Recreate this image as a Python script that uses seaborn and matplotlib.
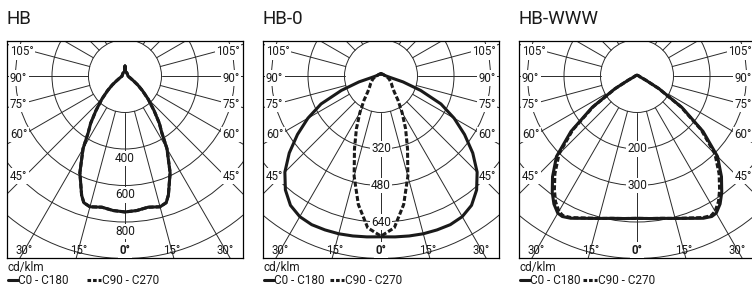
import numpy as np
import matplotlib
matplotlib.use("Agg")
import matplotlib.pyplot as plt
import seaborn as sns
from matplotlib.lines import Line2D
from matplotlib.patches import Circle

sns.set_theme(style="white")
plt.rcParams["font.family"] = ["Roboto", "DejaVu Sans"]
plt.rcParams["lines.scale_dashes"] = False

# ---------------- data (cd/klm versus angle from nadir, degrees) ----------------
titles = ["HB", "HB-0", "HB-WWW"]

hb_angles = [0, 5, 10, 15, 18, 20, 25, 30, 33, 36, 40, 45, 50, 55, 60, 70, 80, 90, 120, 150, 175, 180]
hb_c0 = [745, 740, 730, 742, 730, 695, 585, 460, 370, 320, 248, 180, 125, 85, 55, 30, 20, 16, 16, 20, 25, 55]
hb_c90 = hb_c0

hb0_angles = [0, 5, 10, 15, 20, 25, 30, 35, 40, 45, 50, 55, 60, 65, 70, 75, 80, 85, 90, 100, 120, 150, 180]
hb0_c0 = [705, 708, 712, 716, 718, 719, 712, 692, 652, 596, 525, 447, 370, 290, 185, 100, 45, 30, 23, 16, 12, 10, 9]
hb0_c90 = [702, 668, 572, 455, 340, 255, 185, 130, 90, 72, 62, 55, 48, 42, 38, 32, 28, 25, 22, 16, 12, 10, 9]

www_angles = [0, 5, 10, 15, 20, 25, 28, 30, 33, 36, 40, 45, 50, 55, 60, 65, 70, 80, 90, 120, 180]
www_c0 = [390, 392, 396, 404, 415, 430, 436, 434, 418, 395, 360, 312, 236, 150, 70, 25, 12, 7, 5, 3, 2]
www_c90 = [390, 392, 396, 404, 414, 428, 433, 428, 410, 385, 350, 302, 230, 146, 68, 25, 12, 7, 5, 3, 2]

ring_steps = [200, 160, 100]            # cd/klm per grid ring
value_labels = [[400, 600, 800], [320, 480, 640], [200, 300]]
label_shift = [0.26, 0.0, 0.0]          # label offset (rings) below ring
angle_labels = [105, 90, 75, 60, 45]
bottom_labels = [30, 15]

series = [
    (hb_angles, hb_c0, hb_c90),
    (hb0_angles, hb0_c0, hb0_c90),
    (www_angles, www_c0, www_c90),
]

# ---------------- layout (pixels) ----------------
W, H = 752, 289
RING = 36.5
box_left = [7, 263, 519]
box_top = 41
BL, BR, BU, BD = 118, 118, 35, 182   # box extents around origin
legend_gap = [80, 67, 64]

fig = plt.figure(figsize=(W / 100, H / 100), dpi=100)
fig.patch.set_facecolor("white")

def fx(x):
    return x / W

def fy(y):
    return 1 - y / H

INK = "#1a1a1a"
GRID = "#2a2a2a"


def full_curve(angles, values, step):
    ang = np.asarray(angles, float)
    val = np.asarray(values, float)
    a = np.deg2rad(np.concatenate([-ang[::-1], ang[1:]]))
    v = np.concatenate([val[::-1], val[1:]])
    r = v / step
    return r * np.sin(a), -r * np.cos(a)


for i in range(3):
    x0 = box_left[i]
    w = BL + BR
    h = BU + BD
    ax = fig.add_axes([fx(x0), fy(box_top + h), w / W, h / H])
    ax.set_xlim(-BL / RING, BR / RING)
    ax.set_ylim(-BD / RING, BU / RING)
    ax.set_xticks([])
    ax.set_yticks([])
    ax.set_facecolor("white")
    for s in ax.spines.values():
        s.set_visible(True)
        s.set_color("black")
        s.set_linewidth(0.9)

    # rings
    for k in range(1, 8):
        ax.add_patch(Circle((0, 0), k, fill=False, lw=0.7, ec=GRID, zorder=1))
    # spokes every 15 degrees
    for a in range(-180, 181, 15):
        t = np.deg2rad(a)
        ax.plot([np.sin(t) * 1, np.sin(t) * 9], [-np.cos(t) * 1, -np.cos(t) * 9],
                color=GRID, lw=0.7, zorder=1)

    step = ring_steps[i]
    ang, c0, c90 = series[i]
    xs, ys = full_curve(ang, c90, step)
    sns.lineplot(x=xs, y=ys, sort=False, estimator=None, ax=ax, color=INK,
                 linewidth=2.2, zorder=5, legend=False)
    ax.lines[-1].set_dashes([3.6, 1.6])
    xs, ys = full_curve(ang, c0, step)
    sns.lineplot(x=xs, y=ys, sort=False, estimator=None, ax=ax, color=INK,
                 linewidth=2.2, zorder=6, legend=False)

    bb = dict(boxstyle="square,pad=0.12", fc="white", ec="none")
    # radial value labels
    for v in value_labels[i]:
        r = v / step + label_shift[i]
        ax.text(0, -r, str(v), ha="center", va="center", fontsize=8.6,
                color=INK, bbox=bb, zorder=4)

    # side angle labels
    for a in angle_labels:
        t = np.deg2rad(a)
        xl = (BL - 20) / RING
        r = xl / np.sin(t)
        yl = -r * np.cos(t) - 2 / RING
        ax.text(-BL / RING + 3 / RING, yl, f"{a}°", ha="left", va="center",
                fontsize=8.3, color=INK, bbox=bb, zorder=4)
        ax.text(BR / RING - 3 / RING, yl, f"{a}°", ha="right", va="center",
                fontsize=8.3, color=INK, bbox=bb, zorder=4)
    # bottom angle labels
    yb = -(BD - 8) / RING
    for a in bottom_labels:
        t = np.deg2rad(a)
        xb = -yb * np.tan(t)
        ax.text(-xb, yb, f"{a}°", ha="center", va="center", fontsize=8.3,
                color=INK, zorder=4)
        ax.text(xb, yb, f"{a}°", ha="center", va="center", fontsize=8.3,
                color=INK, zorder=4)
    ax.text(0, yb, "0°", ha="center", va="center", fontsize=8.3,
            fontweight="bold", color=INK, bbox=bb, zorder=4)

    # title
    fig.text(fx(x0), fy(19), titles[i], ha="left", va="center",
             fontsize=13.5, color=INK)
    # unit + legend
    fig.text(fx(x0 + 1), fy(268), "cd/klm", ha="left", va="center",
             fontsize=8.5, color=INK)
    ly = fy(280)
    fig.add_artist(Line2D([fx(x0 + 1), fx(x0 + 11)], [ly, ly], color=INK,
                          lw=2.2, transform=fig.transFigure))
    fig.text(fx(x0 + 11), ly, "C0 - C180", ha="left", va="center",
             fontsize=8.5, color=INK)
    gx = x0 + legend_gap[i]
    dl = Line2D([fx(gx), fx(gx + 14)], [ly, ly], color=INK, lw=2.2,
                transform=fig.transFigure)
    dl.set_dashes([2.6, 1.4])
    fig.add_artist(dl)
    fig.text(fx(gx + 15), ly, "C90 - C270", ha="left", va="center",
             fontsize=8.5, color=INK)

fig.savefig("out.png", dpi=100, facecolor="white")
